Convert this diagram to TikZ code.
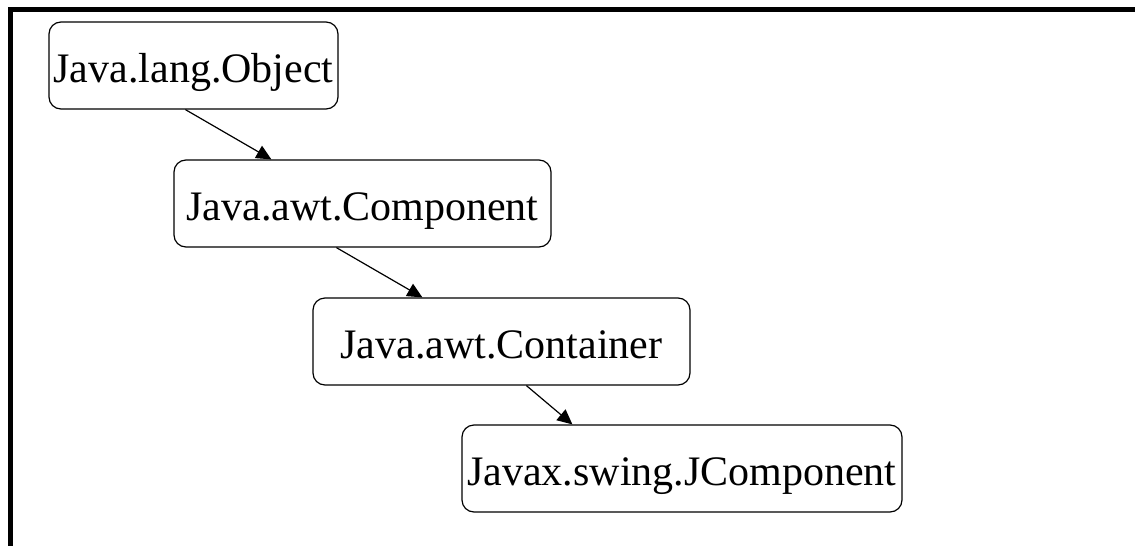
\documentclass[tikz,border=0pt]{standalone}
\usepackage{fontspec}
\setmainfont{Liberation Serif}
\usetikzlibrary{arrows.meta}

\tikzset{
	classbox/.style={draw, rounded corners=12pt, line width=1.2pt,
		minimum height=87pt, inner sep=0pt, text height=33pt, text depth=0pt,
		font=\fontsize{42}{50}\selectfont},
	inherit/.style={line width=1.2pt, -{Triangle[length=15pt,width=14pt]}}
}

\begin{document}
\begin{tikzpicture}[x=1pt,y=-1pt]
	\useasboundingbox (0,0) rectangle (1135,546);
	\draw[line width=5pt] (10.5,546) -- (10.5,9.5) -- (1135,9.5);
	
	\node[classbox, minimum width=289pt] (obj) at (193.5,65.5) {Java.lang.Object};
	\node[classbox, minimum width=377pt] (comp) at (362.5,203.5) {Java.awt.Component};
	\node[classbox, minimum width=377pt] (cont) at (501.5,341.5) {Java.awt.Container};
	\node[classbox, minimum width=440pt] (jcomp) at (682,468.5) {Javax.swing.JComponent};
	
	\path [inherit]
	([xshift=137pt]obj.south west) edge ([xshift=98pt]comp.north west)
	([xshift=163pt]comp.south west) edge ([xshift=110pt]cont.north west)
	([xshift=214pt]cont.south west) edge ([xshift=111pt]jcomp.north west);
\end{tikzpicture}
\end{document}
